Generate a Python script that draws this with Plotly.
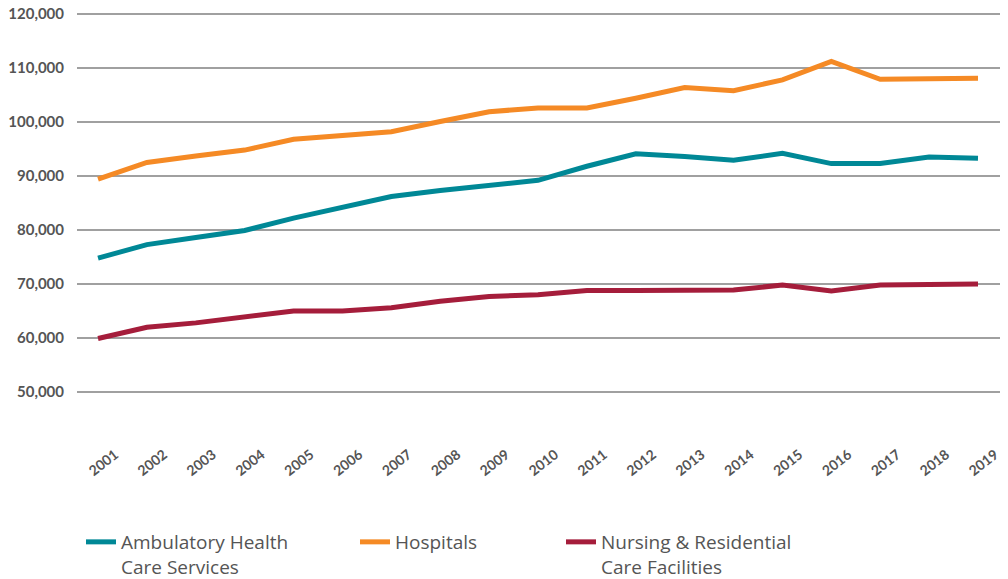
import plotly.graph_objects as go

years = list(range(2001, 2020))
ambulatory = [74800, 77300, 78600, 79900, 82200, 84200, 86200, 87300, 88300, 89200,
              91800, 94100, 93600, 92900, 94200, 92300, 92300, 93500, 93300]
hospitals = [89400, 92500, 93700, 94800, 96800, 97400, 98200, 100100, 101900, 102600,
             102600, 104400, 106400, 105800, 107800, 111200, 107900, 108000, 108100]
nursing = [59900, 62000, 62800, 63800, 65000, 65000, 65600, 66800, 67700, 68000,
           68800, 68800, 68900, 68900, 69800, 68700, 69800, 70000, 70000]

series = [
    ("Ambulatory Health<br>Care Services", ambulatory, "#008896", "legend"),
    ("Hospitals", hospitals, "#f58a25", "legend2"),
    ("Nursing & Residential<br>Care Facilities", nursing, "#a51d3b", "legend3"),
]

y_ticks = [50000, 60000, 70000, 80000, 90000, 100000, 110000, 120000]
y_labels = ["50,000", "60,000", "70,000", "80,000", "90,000", "100,000", "110,000", "120,000"]

fig = go.Figure()
for name, vals, color, leg in series:
    fig.add_trace(go.Scatter(
        x=years, y=vals, mode="lines", name=name,
        line=dict(color=color, width=5, shape="linear"),
        legend=leg,
    ))

W, H = 1008, 579
ML, MR, MT, MB = 77, 8, 9, 133
PW = W - ML - MR
PH = H - MT - MB
px_per_10k = (446 - 14) / 8.0
y_top = 120000 + (14 - MT) / px_per_10k * 10000

font_fam = "Lato, 'Open Sans', sans-serif"
leg_font = "'Open Sans', Lato, sans-serif"
leg_common = dict(orientation="h", yanchor="top", y=-(523 - (H - MB)) / PH, xanchor="left",
                  font=dict(family=leg_font, size=19, color="#555555"),
                  valign="top", bgcolor="rgba(0,0,0,0)", borderwidth=0,
                  xref="paper", yref="paper")

fig.update_layout(
    width=W, height=H,
    margin=dict(l=ML, r=MR, t=MT, b=MB, autoexpand=False),
    paper_bgcolor="white", plot_bgcolor="white",
    showlegend=True,
    legend=dict(x=(81 - ML) / PW, **leg_common),
    legend2=dict(x=(355 - ML) / PW, **leg_common),
    legend3=dict(x=(561 - ML) / PW, **leg_common),
    xaxis=dict(
        range=[2000.57, 2019.45],
        tickmode="array", tickvals=years, ticktext=[str(y) for y in years],
        tickangle=-38, automargin=False,
        tickfont=dict(family=font_fam, size=14, color="#555555", weight="bold"),
        showgrid=False, zeroline=False, showline=False,
        ticklabelshift=17, ticklabelstandoff=-3,
    ),
    yaxis=dict(
        range=[40000, y_top], automargin=False,
        tickmode="array", tickvals=y_ticks, ticktext=y_labels,
        tickfont=dict(family=font_fam, size=15, color="#555555", weight="bold"),
        showgrid=True, gridcolor="#a0a0a0", gridwidth=1.5,
        zeroline=False, showline=False,
        ticklabelstandoff=12, ticklabeloverflow="allow",
    ),
)

fig.write_html("out.html", config={"displayModeBar": False},
               post_script="document.body.style.margin='0px';")
